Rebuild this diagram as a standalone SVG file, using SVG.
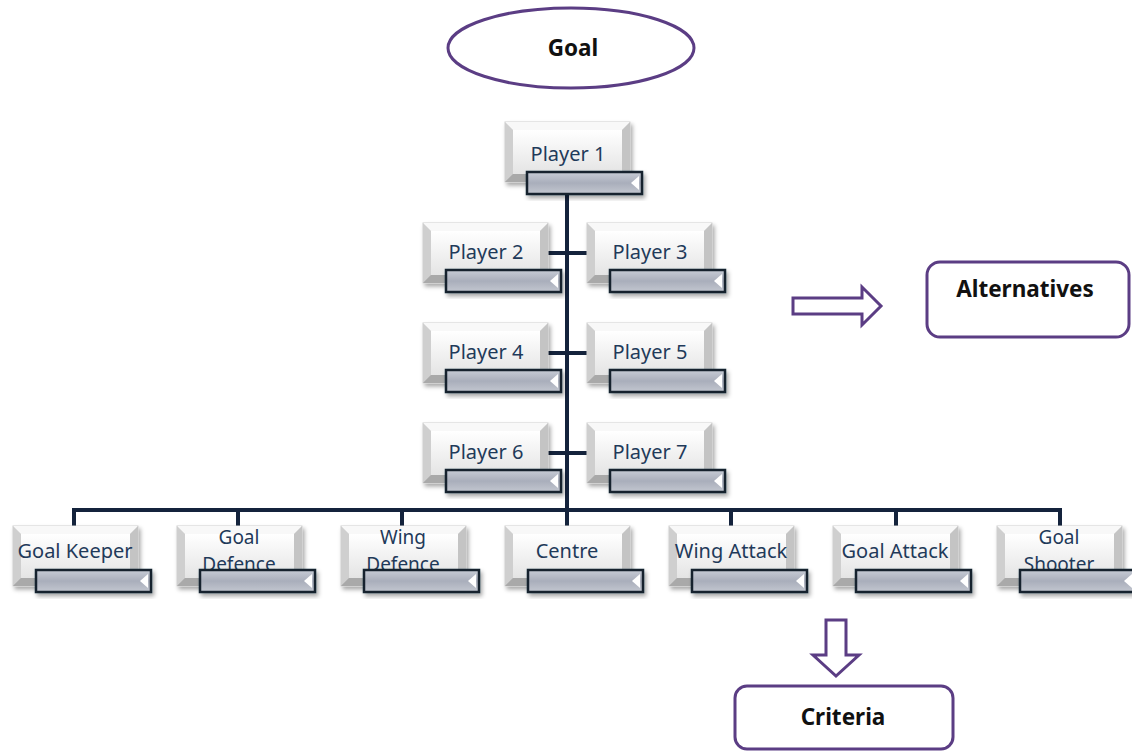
<svg xmlns="http://www.w3.org/2000/svg" xmlns:xlink="http://www.w3.org/1999/xlink" width="1132" height="753" viewBox="0 0 1132 753">
<style>
.lbl{font-family:"Noto Sans","Liberation Sans",sans-serif;font-size:20px;fill:#1f3a5a;text-anchor:middle}
.two{font-size:19px}
.hd{font-family:"Noto Sans","Liberation Sans",sans-serif;font-size:22.5px;font-weight:bold;fill:#111;text-anchor:middle}
.conn{stroke:#14233c;stroke-width:4;fill:none}
.pur{stroke:#5b3d84;stroke-width:3;fill:#fff}
</style>
<defs>
<linearGradient id="gOut" x1="0" y1="0" x2="0" y2="1">
<stop offset="0" stop-color="#f2f2f2"/><stop offset="1" stop-color="#b9b9b9"/>
</linearGradient>
<linearGradient id="gIn" x1="0" y1="0" x2="0" y2="1">
<stop offset="0" stop-color="#ffffff"/><stop offset="1" stop-color="#e4e4e4"/>
</linearGradient>
<linearGradient id="gBar" x1="0" y1="0" x2="0" y2="1">
<stop offset="0" stop-color="#c7ccd6"/><stop offset="0.5" stop-color="#a9aebb"/><stop offset="1" stop-color="#c3c7d0"/>
</linearGradient>
<filter id="sh" x="-10%" y="-10%" width="130%" height="140%">
<feDropShadow dx="2" dy="3" stdDeviation="2" flood-color="#000" flood-opacity="0.35"/>
</filter>
<g id="btn">
<rect x="0" y="0" width="125" height="60" fill="url(#gOut)" stroke="#d0d0d0" stroke-width="1" filter="url(#sh)"/>
<polygon points="0,0 125,0 117,8 8,8" fill="#f8f8f8"/>
<polygon points="0,0 8,8 8,52 0,60" fill="#cfcfcf"/>
<polygon points="125,0 117,8 117,52 125,60" fill="#c4c4c4"/>
<polygon points="0,60 8,52 117,52 125,60" fill="#a9a9a9"/>
<rect x="8" y="8" width="109" height="44" fill="url(#gIn)"/>
</g>
<g id="bar">
<rect x="0" y="0" width="115" height="22" fill="url(#gBar)" stroke="#16202e" stroke-width="2.5" filter="url(#sh)"/>
<polygon points="112,4 112,18 104,11" fill="#fff"/>
</g>
</defs>
<rect width="1132" height="753" fill="#fff"/>

<g id="connectors">
<line class="conn" x1="567" y1="193" x2="567" y2="511"/>
<line class="conn" x1="547" y1="253" x2="587" y2="253"/>
<line class="conn" x1="547" y1="353" x2="587" y2="353"/>
<line class="conn" x1="547" y1="453" x2="587" y2="453"/>
<polyline class="conn" points="74,527 74,510 1060,510 1060,527"/>
<line class="conn" x1="238" y1="510" x2="238" y2="527"/>
<line class="conn" x1="402" y1="510" x2="402" y2="527"/>
<line class="conn" x1="567" y1="510" x2="567" y2="527"/>
<line class="conn" x1="731" y1="510" x2="731" y2="527"/>
<line class="conn" x1="896" y1="510" x2="896" y2="527"/>
</g>

<g id="goal">
<ellipse class="pur" cx="571" cy="48" rx="123" ry="40"/>
<text class="hd" x="573" y="56" font-size="26">Goal</text>
</g>

<g id="player1" transform="translate(505,122)">
<use xlink:href="#btn"/>
<text class="lbl" x="63" y="39">Player 1</text>
<use xlink:href="#bar" x="22" y="50"/>
</g>
<g id="player2" transform="translate(423,223)">
<use xlink:href="#btn"/>
<text class="lbl" x="63" y="36">Player 2</text>
<use xlink:href="#bar" x="23" y="47"/>
</g>
<g id="player3" transform="translate(587,223)">
<use xlink:href="#btn"/>
<text class="lbl" x="63" y="36">Player 3</text>
<use xlink:href="#bar" x="23" y="47"/>
</g>
<g id="player4" transform="translate(423,323)">
<use xlink:href="#btn"/>
<text class="lbl" x="63" y="36">Player 4</text>
<use xlink:href="#bar" x="23" y="47"/>
</g>
<g id="player5" transform="translate(587,323)">
<use xlink:href="#btn"/>
<text class="lbl" x="63" y="36">Player 5</text>
<use xlink:href="#bar" x="23" y="47"/>
</g>
<g id="player6" transform="translate(423,423)">
<use xlink:href="#btn"/>
<text class="lbl" x="63" y="36">Player 6</text>
<use xlink:href="#bar" x="23" y="47"/>
</g>
<g id="player7" transform="translate(587,423)">
<use xlink:href="#btn"/>
<text class="lbl" x="63" y="36">Player 7</text>
<use xlink:href="#bar" x="23" y="47"/>
</g>

<g id="goal-keeper" transform="translate(13,526)">
<use xlink:href="#btn"/>
<text class="lbl" x="62" y="32">Goal Keeper</text>
<use xlink:href="#bar" x="23" y="44"/>
</g>
<g id="goal-defence" transform="translate(177,526)">
<use xlink:href="#btn"/>
<text class="lbl two" x="62" y="18">Goal</text>
<text class="lbl two" x="62" y="45">Defence</text>
<use xlink:href="#bar" x="23" y="44"/>
</g>
<g id="wing-defence" transform="translate(341,526)">
<use xlink:href="#btn"/>
<text class="lbl two" x="62" y="18">Wing</text>
<text class="lbl two" x="62" y="45">Defence</text>
<use xlink:href="#bar" x="23" y="44"/>
</g>
<g id="centre" transform="translate(505,526)">
<use xlink:href="#btn"/>
<text class="lbl" x="62" y="32">Centre</text>
<use xlink:href="#bar" x="23" y="44"/>
</g>
<g id="wing-attack" transform="translate(669,526)">
<use xlink:href="#btn"/>
<text class="lbl" x="62" y="32">Wing Attack</text>
<use xlink:href="#bar" x="23" y="44"/>
</g>
<g id="goal-attack" transform="translate(833,526)">
<use xlink:href="#btn"/>
<text class="lbl" x="62" y="32">Goal Attack</text>
<use xlink:href="#bar" x="23" y="44"/>
</g>
<g id="goal-shooter" transform="translate(997,526)">
<use xlink:href="#btn"/>
<text class="lbl two" x="62" y="18">Goal</text>
<text class="lbl two" x="62" y="45">Shooter</text>
<use xlink:href="#bar" x="23" y="44"/>
</g>

<g id="arrow-right">
<polygon class="pur" points="793,298 862,298 862,287 881,306 862,325 862,314 793,314"/>
</g>
<g id="alternatives">
<rect class="pur" x="927" y="262" width="202" height="75" rx="13"/>
<text class="hd" x="1025" y="297">Alternatives</text>
</g>
<g id="arrow-down">
<polygon class="pur" points="826,620 846,620 846,655 859,655 836,676 813,655 826,655"/>
</g>
<g id="criteria">
<rect class="pur" x="735" y="686" width="218" height="63" rx="12"/>
<text class="hd" x="843" y="725">Criteria</text>
</g>
</svg>
